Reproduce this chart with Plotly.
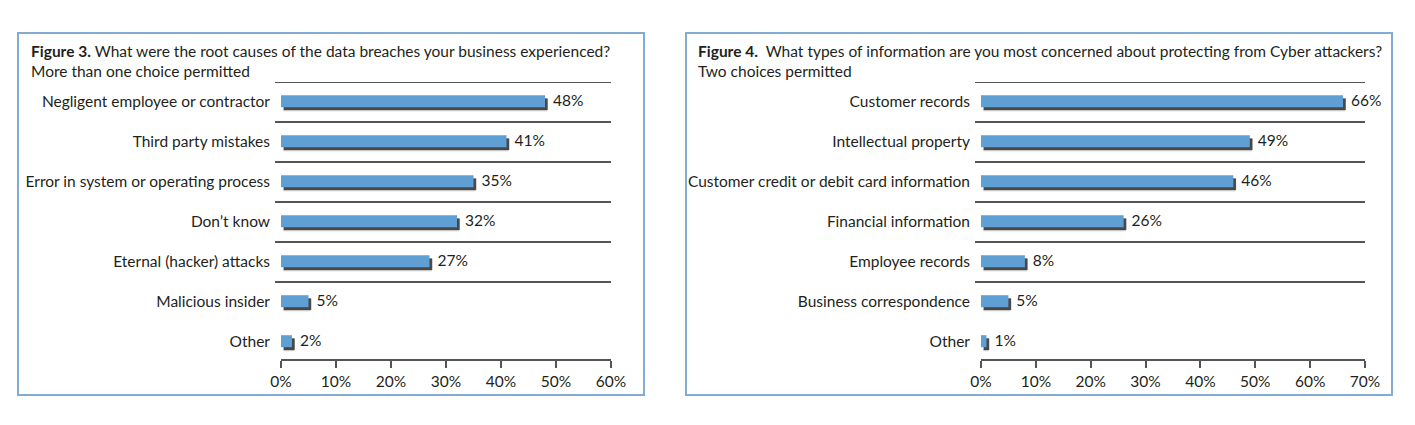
import plotly.graph_objects as go

# ---- data ----
left_categories = ["Negligent employee or contractor", "Third party mistakes",
                   "Error in system or operating process", "Don\u2019t know",
                   "Eternal (hacker) attacks", "Malicious insider", "Other"]
left_values = [48, 41, 35, 32, 27, 5, 2]
left_ticks = [0, 10, 20, 30, 40, 50, 60]
left_title = "<b>Figure 3.</b> What were the root causes of the data breaches your business experienced?<br>More than one choice permitted"

right_categories = ["Customer records", "Intellectual property",
                    "Customer credit or debit card information", "Financial information",
                    "Employee records", "Business correspondence", "Other"]
right_values = [66, 49, 46, 26, 8, 5, 1]
right_ticks = [0, 10, 20, 30, 40, 50, 60, 70]
right_title = "<b>Figure 4.</b>  What types of information are you most concerned about protecting from Cyber attackers?<br>Two choices permitted"

W, H = 1415, 425
FONT = "Lato"
FS = 15.5
TXT = "#231f20"
BAR = "#5f9fd4"
LINE = "#555555"
BOX = "#83acd0"

def px_x(p):
    return p / W

def px_y(p):
    return 1 - p / H

fig = go.Figure()

panels = [
    dict(cats=left_categories, vals=left_values, ticks=left_ticks, xa="x", ya="y",
         x0=281, x1=611, rng=60, title=left_title, tx=29, box=(18, 644)),
    dict(cats=right_categories, vals=right_values, ticks=right_ticks, xa="x2", ya="y2",
         x0=981, x1=1365, rng=70, title=right_title, tx=696, box=(686, 1392)),
]

shapes = []
annotations = []
for i, p in enumerate(panels):
    n = len(p["vals"])
    # soft outer shadow
    fig.add_trace(go.Bar(
        x=p["vals"], y=p["cats"], base=[0.4] * n, orientation="h",
        width=0.33, offset=-0.1, marker=dict(color="rgba(0,0,0,0.22)", line_width=0),
        xaxis=p["xa"], yaxis=p["ya"], hoverinfo="skip", showlegend=False))
    # inner shadow
    fig.add_trace(go.Bar(
        x=p["vals"], y=p["cats"], base=[0.5] * n, orientation="h",
        width=0.29, offset=-0.09, marker=dict(color="rgba(30,30,30,0.75)", line_width=0),
        xaxis=p["xa"], yaxis=p["ya"], hoverinfo="skip", showlegend=False))
    # bar
    fig.add_trace(go.Bar(
        x=p["vals"], y=p["cats"], orientation="h",
        width=0.3, offset=-0.17, marker=dict(color=BAR, line_width=0),
        xaxis=p["xa"], yaxis=p["ya"], showlegend=False))
    # value labels
    fig.add_trace(go.Scatter(
        x=p["vals"], y=p["cats"], mode="text",
        text=["  %d%%" % v for v in p["vals"]], textposition="middle right",
        textfont=dict(family=FONT, size=FS, color=TXT),
        xaxis=p["xa"], yaxis=p["ya"], showlegend=False, cliponaxis=False, hoverinfo="skip"))
    # separators
    xref = p["xa"] + " domain"
    for k in range(n - 1):
        shapes.append(dict(type="line", xref=xref, yref=p["ya"],
                           x0=-6 / (p["x1"] - p["x0"]), x1=1, y0=k - 0.5, y1=k - 0.5,
                           line=dict(color=LINE, width=2)))
    # box
    shapes.append(dict(type="rect", xref="paper", yref="paper",
                       x0=px_x(p["box"][0]), x1=px_x(p["box"][1]), y0=px_y(395), y1=px_y(33),
                       line=dict(color=BOX, width=2), layer="below"))
    annotations.append(dict(xref="paper", yref="paper", x=px_x(p["tx"]), y=px_y(40),
                            xanchor="left", yanchor="top", align="left", showarrow=False,
                            text=p["title"], font=dict(family=FONT, size=FS, color=TXT)))

    ax = dict(domain=[px_x(p["x0"]), px_x(p["x1"])], range=[0, p["rng"]],
              tickvals=p["ticks"], ticktext=["%d%%" % t for t in p["ticks"]],
              showgrid=False, zeroline=False, showline=True, linecolor=LINE, linewidth=2,
              ticks="outside", ticklen=7, tickwidth=2, tickcolor=LINE, automargin=False,
              tickfont=dict(family=FONT, size=FS, color=TXT), anchor=p["ya"], fixedrange=True)
    ay = dict(domain=[px_y(359), px_y(82)], type="category", categoryorder="array",
              categoryarray=p["cats"], range=[6.425, -0.5], showgrid=False, zeroline=False,
              showline=False, ticks="", ticklabelstandoff=10, automargin=False,
              tickfont=dict(family=FONT, size=FS, color=TXT), anchor=p["xa"], fixedrange=True)
    if i == 0:
        fig.update_layout(xaxis=ax, yaxis=ay)
    else:
        fig.update_layout(xaxis2=ax, yaxis2=ay)

fig.update_layout(width=W, height=H, margin=dict(l=0, r=0, t=0, b=0, autoexpand=False),
                  paper_bgcolor="white", plot_bgcolor="rgba(0,0,0,0)",
                  barmode="overlay", shapes=shapes, annotations=annotations,
                  font=dict(family=FONT, color=TXT))

fig.write_html("out.html")
